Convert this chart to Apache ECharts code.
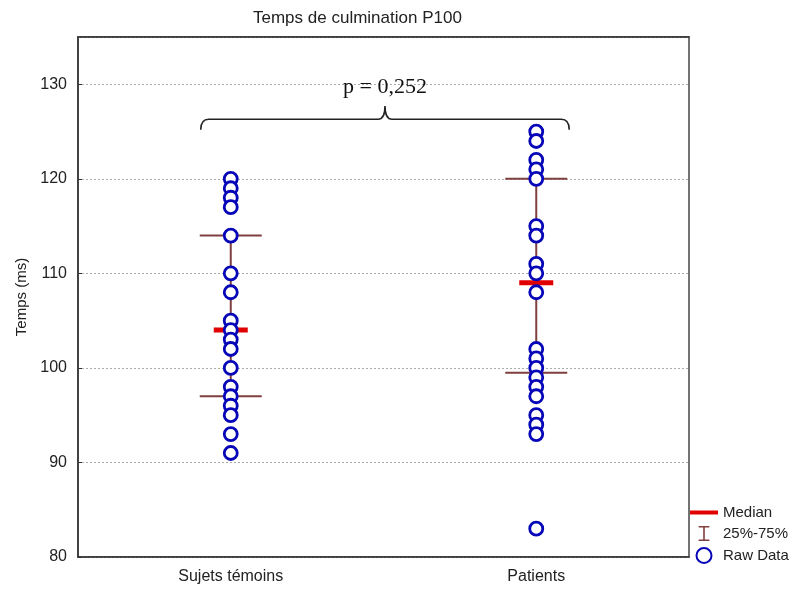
<!DOCTYPE html>
<html>
<head>
<meta charset="utf-8">
<script src="https://cdn.jsdelivr.net/npm/echarts@6/dist/echarts.min.js"></script>
<style>
html,body{margin:0;padding:0;background:#fff;}
#chart{width:795px;height:591px;}
</style>
</head>
<body>
<div id="chart"></div>
<script>
// ---- data ----
var categories = ['Sujets témoins', 'Patients'];
var controlRaw = [120, 119, 118, 117, 114, 110, 108, 105, 104, 103, 102, 100, 98, 97, 96, 95, 93, 91];
var patientRaw = [125, 124, 122, 121, 120, 115, 114, 111, 110, 108, 102, 101, 100, 99, 98, 97, 95, 94, 93, 83];
var medians = [104, 109];
var q1 = [97, 99.5];
var q3 = [114, 120];
var yMin = 80, yMax = 135, yStep = 10;
var bracketLevels = [125.2, 126.3, 127.7]; // hook end, bar, peak
var pLabel = 'p = 0,252';
var pLabelLevel = 129.7;

var FONT = '"Liberation Sans", Arial, sans-serif';
var chart = echarts.init(document.getElementById('chart'));

var rawData = [];
controlRaw.forEach(function (v) { rawData.push([0, v]); });
patientRaw.forEach(function (v) { rawData.push([1, v]); });

var option = {
  backgroundColor: '#fff',
  animation: false,
  title: {
    text: 'Temps de culmination P100',
    left: 248, top: 5,
    textStyle: { fontFamily: FONT, fontSize: 17, fontWeight: 'normal', color: '#222' }
  },
  grid: { left: 78, right: 106, top: 37, bottom: 34, show: true, borderColor: '#444', borderWidth: 1.5 },
  legend: {
    orient: 'vertical', left: 690, top: 505, padding: 0,
    itemWidth: 28, itemHeight: 15, itemGap: 6,
    textStyle: { fontFamily: FONT, fontSize: 15, color: '#222' },
    data: [
      { name: 'Median', icon: 'path://M0,0H28V4H0Z' },
      { name: '25%-75%', icon: 'path://M0,0H10V1.5H5.75V12.5H10V14H0V12.5H4.25V1.5H0Z' },
      { name: 'Raw Data', icon: 'circle' }
    ]
  },
  xAxis: [{
    type: 'category', data: categories, boundaryGap: true,
    axisLine: { lineStyle: { color: '#333', width: 1.5 } },
    axisTick: { inside: true, alignWithLabel: true, length: 5, lineStyle: { color: '#333', width: 1.5 } },
    axisLabel: { fontFamily: FONT, fontSize: 16, color: '#222', margin: 12 },
    splitLine: { show: false }
  }, {
    type: 'category', data: categories, position: 'top', boundaryGap: true,
    axisLine: { lineStyle: { color: '#333', width: 1.5 } },
    axisTick: { inside: true, alignWithLabel: true, length: 5, lineStyle: { color: '#333', width: 1.5 } },
    axisLabel: { show: false }
  }],
  yAxis: {
    type: 'value', min: yMin, max: yMax, interval: yStep,
    name: 'Temps (ms)', nameLocation: 'middle', nameGap: 49, nameRotate: 90,
    nameTextStyle: { fontFamily: FONT, fontSize: 15, color: '#222' },
    axisLine: { show: true, lineStyle: { color: '#333', width: 1.5 } },
    axisTick: { show: true, inside: true, length: 4, lineStyle: { color: '#333' } },
    axisLabel: { fontFamily: FONT, fontSize: 16, color: '#222', margin: 11, showMaxLabel: false },
    splitLine: { show: true, lineStyle: { color: '#aaa', type: [2, 2], width: 1 } }
  },
  series: [
    {
      name: '25%-75%', type: 'custom', color: '#7f3f3f',
      data: categories.map(function (c, i) { return [i, q1[i], q3[i]]; }),
      renderItem: function (params, api) {
        var lo = api.coord([api.value(0), api.value(1)]);
        var hi = api.coord([api.value(0), api.value(2)]);
        var half = 31;
        var st = { stroke: '#7f3f3f', lineWidth: 2 };
        return { type: 'group', children: [
          { type: 'line', shape: { x1: lo[0], y1: lo[1], x2: hi[0], y2: hi[1] }, style: st },
          { type: 'line', shape: { x1: lo[0] - half, y1: lo[1], x2: lo[0] + half, y2: lo[1] }, style: st },
          { type: 'line', shape: { x1: hi[0] - half, y1: hi[1], x2: hi[0] + half, y2: hi[1] }, style: st }
        ] };
      },
      z: 2
    },
    {
      name: 'Median', type: 'custom', color: '#e00000',
      data: categories.map(function (c, i) { return [i, medians[i]]; }),
      renderItem: function (params, api) {
        var p = api.coord([api.value(0), api.value(1)]);
        return { type: 'rect', shape: { x: p[0] - 17, y: p[1] - 2.5, width: 34, height: 5 }, style: { fill: '#e00000' } };
      },
      z: 3
    },
    {
      name: 'Raw Data', type: 'scatter', symbol: 'circle', symbolSize: 13,
      data: rawData,
      itemStyle: { color: '#fff', borderColor: '#0606b8', borderWidth: 2.8, opacity: 1 },
      z: 4
    },
    {
      name: 'bracket', type: 'custom',
      data: [[0, bracketLevels[1]]],
      renderItem: function (params, api) {
        var a = api.coord([0, bracketLevels[1]]);
        var b = api.coord([1, bracketLevels[1]]);
        var yEnd = api.coord([0, bracketLevels[0]])[1];
        var yMid = a[1];
        var yPeak = api.coord([0, bracketLevels[2]])[1];
        var yText = api.coord([0, pLabelLevel])[1];
        var x0 = a[0] - 30, x1 = b[0] + 33, cx = (x0 + x1) / 2;
        var d = 'M' + x0 + ',' + yEnd +
          ' Q' + x0 + ',' + yMid + ' ' + (x0 + 8) + ',' + yMid +
          ' L' + (cx - 7) + ',' + yMid +
          ' Q' + cx + ',' + yMid + ' ' + cx + ',' + yPeak +
          ' Q' + cx + ',' + yMid + ' ' + (cx + 7) + ',' + yMid +
          ' L' + (x1 - 8) + ',' + yMid +
          ' Q' + x1 + ',' + yMid + ' ' + x1 + ',' + yEnd;
        return { type: 'group', children: [
          { type: 'path', shape: { pathData: d }, style: { fill: null, stroke: '#222', lineWidth: 1.6 } },
          { type: 'text', style: { text: pLabel, x: cx, y: yText, textAlign: 'center', textVerticalAlign: 'middle',
            font: '22px "Liberation Serif", "Times New Roman", serif', fill: '#111' } }
        ] };
      },
      z: 5
    }
  ]
};
chart.setOption(option);
</script>
</body>
</html>
